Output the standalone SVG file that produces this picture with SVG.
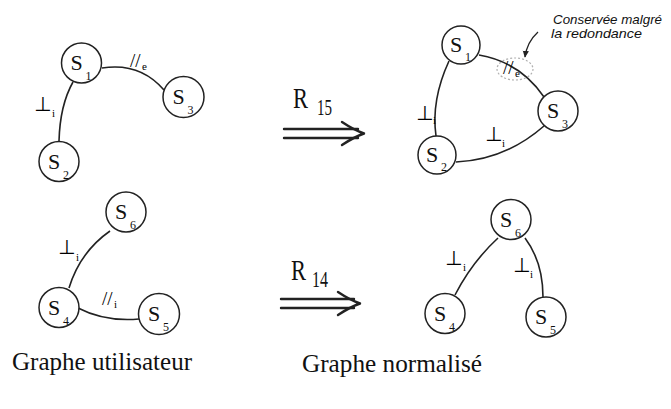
<svg xmlns="http://www.w3.org/2000/svg" width="671" height="409" viewBox="0 0 671 409">
<style>
.n circle{fill:#fff;stroke:#222;stroke-width:1.5}
.s{font-family:"Liberation Serif","Times New Roman",serif;font-size:22px;fill:#111}
.sub{font-family:"Liberation Serif","Times New Roman",serif;font-size:12px;fill:#111}
.e{fill:none;stroke:#222;stroke-width:1.6}
.rel{font-family:"DejaVu Sans",sans-serif;font-size:20px;fill:#000}
.par{font-family:"Liberation Serif",serif;font-size:19px;fill:#000}
.rs{font-family:"Liberation Serif",serif;font-size:11px;fill:#000}
.arr{fill:none;stroke:#222;stroke-width:2.4;stroke-linecap:round;stroke-linejoin:round}
.big{font-family:"Liberation Serif","Times New Roman",serif;fill:#111}
.note{font-family:"Liberation Sans",sans-serif;font-style:italic;font-size:13px;fill:#111}
</style>
<defs>
<marker id="ah" viewBox="0 0 10 10" refX="8" refY="5" markerWidth="6" markerHeight="6" orient="auto">
<path d="M0,1 L9,5 L0,9 Z" fill="#222"/>
</marker>
</defs>

<g id="connectors">
<path class="e" d="M73,82 Q60,105 59,141"/>
<path class="e" d="M102,68 Q140,62 164,90"/>
<path class="e" d="M110,231 Q80,252 69,288"/>
<path class="e" d="M78,308 Q105,322 139,319"/>
<path class="e" d="M449,61 Q431,100 436,136"/>
<path class="e" d="M479,55 Q520,62 544,97"/>
<path class="e" d="M456,162 Q505,160 544,126"/>
<path class="e" d="M498,238 Q472,262 455,295"/>
<path class="e" d="M525,238 Q543,262 543,297"/>
<ellipse cx="515" cy="69" rx="18" ry="11" fill="none" stroke="#b0b0b0" stroke-width="1.2" stroke-dasharray="2 2"/>
<path d="M538,32 Q527,42 525,57" fill="none" stroke="#222" stroke-width="1.3" marker-end="url(#ah)"/>
<path class="arr" d="M284,129 L358,129 M284,138 L358,138"/>
<path class="arr" d="M342,122 Q354,130 364,133.5 Q354,137 342,145"/>
<path class="arr" d="M281,299 L354,299 M281,308 L354,308"/>
<path class="arr" d="M338,292 Q350,300 360,303.5 Q350,307 338,315"/>
</g>

<g id="labels">
<text class="rel" x="34" y="111">⊥</text><text class="rs" x="52" y="117">i</text>
<text class="par" x="130" y="67">//</text><text class="rs" x="142" y="70">e</text>
<text class="rel" x="58" y="254">⊥</text><text class="rs" x="76" y="261">i</text>
<text class="par" x="102" y="305">//</text><text class="rs" x="114" y="308">i</text>
<text class="rel" x="416" y="120">⊥</text><text class="rs" x="433" y="124">i</text>
<text class="par" x="503" y="74">//</text><text class="rs" x="515" y="77">e</text>
<text class="rel" x="485" y="141">⊥</text><text class="rs" x="502" y="147">i</text>
<text class="rel" x="445" y="265">⊥</text><text class="rs" x="463" y="271">i</text>
<text class="rel" x="513" y="272">⊥</text><text class="rs" x="530" y="278">i</text>
<text class="big" x="293" y="108" font-size="30" textLength="15" lengthAdjust="spacingAndGlyphs">R</text>
<text class="big" x="317" y="115" font-size="24" textLength="15" lengthAdjust="spacingAndGlyphs">15</text>
<text class="big" x="291" y="280" font-size="30" textLength="15" lengthAdjust="spacingAndGlyphs">R</text>
<text class="big" x="312" y="287" font-size="24" textLength="16" lengthAdjust="spacingAndGlyphs">14</text>
<text class="note" x="553" y="24" textLength="109" lengthAdjust="spacingAndGlyphs">Conservée malgré</text>
<text class="note" x="551" y="38" textLength="91" lengthAdjust="spacingAndGlyphs">la redondance</text>
<text class="big" x="12" y="370" font-size="26" textLength="180" lengthAdjust="spacingAndGlyphs">Graphe utilisateur</text>
<text class="big" x="302" y="372" font-size="26" textLength="180" lengthAdjust="spacingAndGlyphs">Graphe normalisé</text>
</g>

<g id="nodeTL1" class="n" transform="translate(81.5,63)"><circle r="20"/><text class="s" x="-11" y="7">S</text><text class="sub" x="4" y="17">1</text></g>
<g id="nodeTL2" class="n" transform="translate(59,161.5)"><circle r="20"/><text class="s" x="-11" y="7">S</text><text class="sub" x="4" y="17">2</text></g>
<g id="nodeTL3" class="n" transform="translate(183.5,97)"><circle r="20.5"/><text class="s" x="-11" y="7">S</text><text class="sub" x="4" y="17">3</text></g>

<g id="nodeTR1" class="n" transform="translate(461,45)"><circle r="19"/><text class="s" x="-11" y="7">S</text><text class="sub" x="4" y="16">1</text></g>
<g id="nodeTR2" class="n" transform="translate(437,155)"><circle r="19"/><text class="s" x="-11" y="7">S</text><text class="sub" x="4" y="16">2</text></g>
<g id="nodeTR3" class="n" transform="translate(558,111)"><circle r="20"/><text class="s" x="-11" y="7">S</text><text class="sub" x="4" y="17">3</text></g>

<g id="nodeBL6" class="n" transform="translate(126,212)"><circle r="20"/><text class="s" x="-11" y="7">S</text><text class="sub" x="4" y="17">6</text></g>
<g id="nodeBL4" class="n" transform="translate(59,307.5)"><circle r="20"/><text class="s" x="-11" y="7">S</text><text class="sub" x="4" y="17">4</text></g>
<g id="nodeBL5" class="n" transform="translate(159,314)"><circle r="20.5"/><text class="s" x="-11" y="7">S</text><text class="sub" x="4" y="17">5</text></g>

<g id="nodeBR6" class="n" transform="translate(511,219.5)"><circle r="20"/><text class="s" x="-11" y="7">S</text><text class="sub" x="4" y="17">6</text></g>
<g id="nodeBR4" class="n" transform="translate(445,313.5)"><circle r="20"/><text class="s" x="-11" y="7">S</text><text class="sub" x="4" y="17">4</text></g>
<g id="nodeBR5" class="n" transform="translate(546,317)"><circle r="20"/><text class="s" x="-11" y="7">S</text><text class="sub" x="4" y="17">5</text></g>
</svg>
